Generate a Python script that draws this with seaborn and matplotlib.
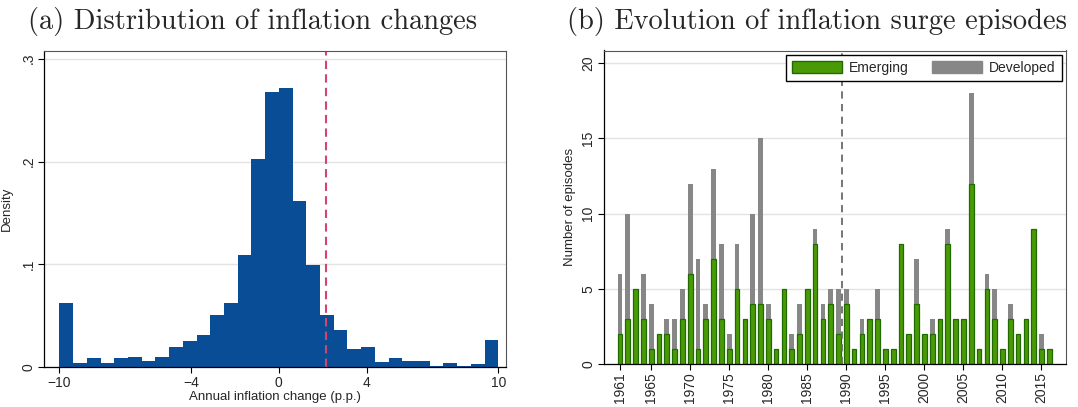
import matplotlib
matplotlib.use("Agg")
import matplotlib.pyplot as plt
from matplotlib.patches import Patch
import numpy as np
import pandas as pd
import seaborn as sns

# (a) histogram: 32 bins of width 0.625 between -10 and 10, density per bin
bin_edges = list(np.linspace(-10, 10, 33))
density = [0.0623, 0.0042, 0.0094, 0.0042, 0.0087, 0.0103, 0.0065, 0.0103,
           0.0197, 0.0255, 0.0313, 0.0506, 0.0623, 0.1087, 0.2029, 0.2677,
           0.2716, 0.1619, 0.0994, 0.0506, 0.0358, 0.0177, 0.0197, 0.0055,
           0.0094, 0.0065, 0.0065, 0.0010, 0.0042, 0.0010, 0.0030, 0.0265]
threshold = 2.15

# (b) surge episodes per year
years = list(range(1961, 2017))
emerging = [2, 3, 5, 3, 1, 2, 2, 1, 3, 6, 1, 3, 7, 3, 1, 5, 3, 4, 4, 3,
            1, 5, 1, 2, 5, 8, 3, 4, 2, 4, 1, 2, 3, 3, 1, 1, 8, 2, 4, 2,
            2, 3, 8, 3, 3, 12, 1, 5, 3, 1, 3, 2, 3, 9, 1, 1]
total = [6, 10, 5, 6, 4, 2, 3, 3, 5, 12, 7, 4, 13, 8, 2, 8, 3, 10, 15, 4,
         1, 5, 2, 4, 5, 9, 4, 5, 5, 5, 1, 3, 3, 5, 1, 1, 8, 2, 7, 2,
         3, 3, 9, 3, 3, 18, 1, 6, 5, 1, 4, 2, 3, 9, 2, 1]
year_ticks = [1961, 1965, 1970, 1975, 1980, 1985, 1990, 1995, 2000, 2005, 2010, 2015]

sns.set_style("white")
plt.rcParams['font.family'] = ['Liberation Sans', 'DejaVu Sans']

W, H = 1078, 407
fig = plt.figure(figsize=(W / 100, H / 100), dpi=100)
ax1 = fig.add_axes([44 / W, (H - 367.3) / H, (505.7 - 44) / W, (367.3 - 50.5) / H])
ax2 = fig.add_axes([603.5 / W, (H - 364) / H, (1066 - 603.5) / W, (364 - 50.5) / H])

blue = '#0a4d97'
green = '#4a9a08'
dark_green = '#1f6b00'
grey = '#878787'

# ---- panel (a)
mids = [(a + b) / 2 for a, b in zip(bin_edges[:-1], bin_edges[1:])]
hist_df = pd.DataFrame({'change': mids, 'density': density})
sns.histplot(data=hist_df, x='change', weights='density', bins=bin_edges,
             stat='count', color=blue, alpha=1, linewidth=0, ax=ax1)
ax1.axvline(threshold, color='#d4456d', linestyle=(0, (4, 2.5)), linewidth=1.5)
ax1.set_xlim(-10.7, 10.34)
ax1.set_ylim(0, 0.308)
ax1.set_xticks([-10, -4, 0, 4, 10])
ax1.set_yticks([0, 0.1, 0.2, 0.3])
ax1.set_yticklabels(['0', '.1', '.2', '.3'], rotation=90, va='center')
ax1.set_xlabel('Annual inflation change (p.p.)', fontsize=9.5, labelpad=1)
ax1.set_ylabel('Density', fontsize=9.5, labelpad=6)

# ---- panel (b)
sns.barplot(x=years, y=total, native_scale=True, width=0.6, color=grey,
            saturation=1, linewidth=0, ax=ax2)
sns.barplot(x=years, y=emerging, native_scale=True, width=0.6, color=green,
            saturation=1, edgecolor=dark_green, linewidth=0.9, ax=ax2)
ax2.axvline(1989.5, color='#6a6a6a', linestyle=(0, (4, 3)), linewidth=1.3)
ax2.set_xlim(1958.89, 2018.14)
ax2.set_ylim(0, 20.85)
ax2.set_xticks(year_ticks)
ax2.set_xticklabels([str(y) for y in year_ticks], rotation=90)
ax2.set_yticks([0, 5, 10, 15, 20])
ax2.set_yticklabels(['0', '5', '10', '15', '20'], rotation=90, va='center')
ax2.set_xlabel('')
ax2.set_ylabel('Number of episodes', fontsize=9.5, labelpad=4)
ax2.legend(handles=[Patch(facecolor=green, edgecolor=dark_green, label='Emerging'),
                    Patch(facecolor=grey, edgecolor=grey, label='Developed')],
           loc='upper right', ncol=2, fontsize=10, frameon=True, fancybox=False,
           edgecolor='black', framealpha=1, handlelength=3.6, handleheight=0.9,
           handletextpad=0.5, columnspacing=1.7, borderaxespad=0.3, borderpad=0.45)

for ax in (ax1, ax2):
    ax.set_axisbelow(True)
    ax.yaxis.grid(True, color='#e3e3e3', linewidth=1)
    ax.tick_params(axis='both', direction='out', length=4, width=0.8,
                   labelsize=10, color='black', pad=2,
                   bottom=True, left=True)
    for side in ('left', 'bottom'):
        ax.spines[side].set_color('black')
        ax.spines[side].set_linewidth(0.9)
    for side in ('top', 'right'):
        ax.spines[side].set_visible(True)
        ax.spines[side].set_color('#555555')
        ax.spines[side].set_linewidth(0.8)

fig.text(253 / W, 1 - 29 / H, '(a) Distribution of inflation changes',
         family='cmr10', fontsize=20.5, ha='center', va='baseline')
fig.text(817 / W, 1 - 29 / H, '(b) Evolution of inflation surge episodes',
         family='cmr10', fontsize=20.5, ha='center', va='baseline')

fig.savefig('out.png', dpi=100)
